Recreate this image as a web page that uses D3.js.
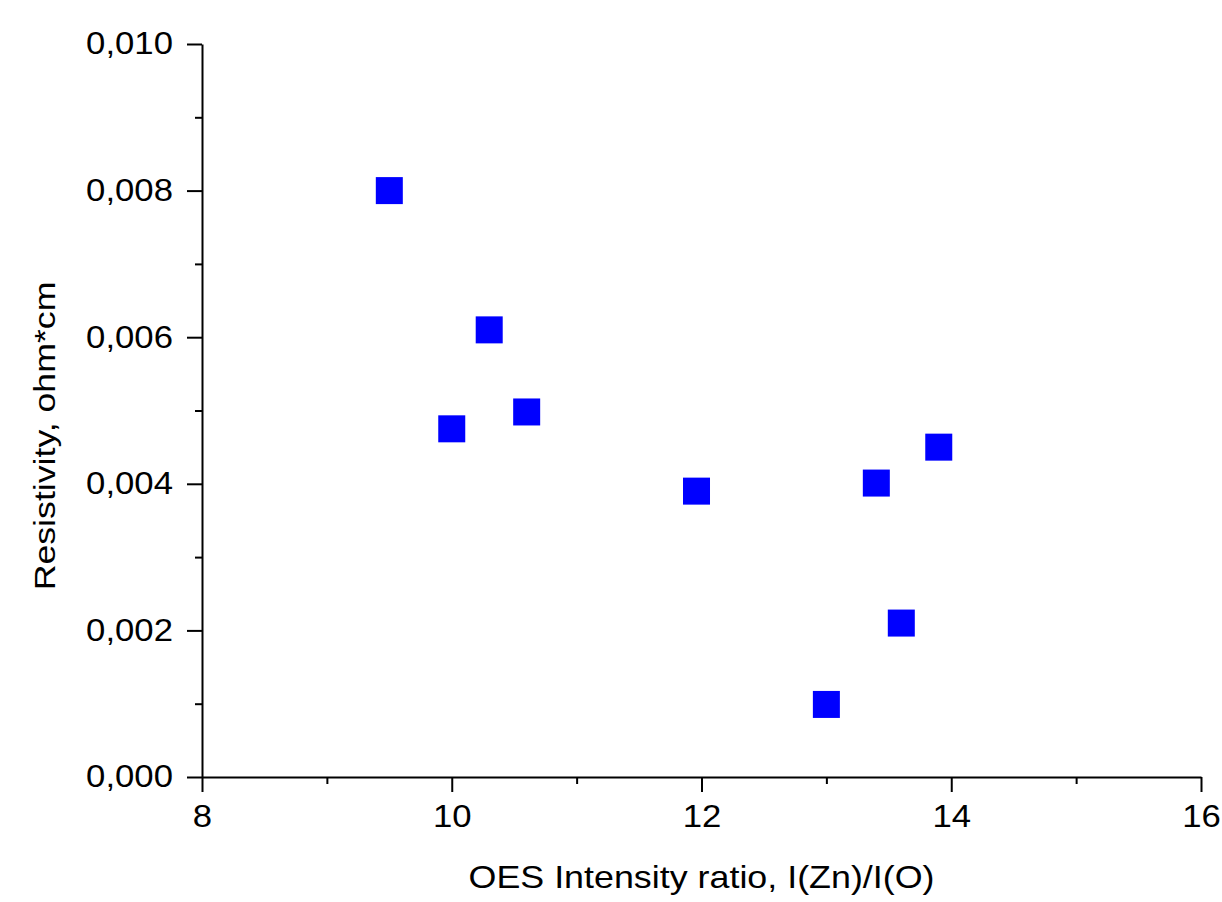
<!DOCTYPE html>
<html>
<head>
<meta charset="utf-8">
<script src="https://cdn.jsdelivr.net/npm/d3@7"></script>
<style>
  html, body { margin: 0; padding: 0; background: #fff; }
  svg text { font-family: "Liberation Sans", Arial, sans-serif; fill: #000; }
</style>
</head>
<body>
<div id="container"></div>
<script>
// OES ratio vs resistivity
const ratio = [9.5, 10.0, 10.3, 10.6, 11.96, 13.0, 13.4, 13.6, 13.9];
const resistivity = [0.0080, 0.00475, 0.0061, 0.00498, 0.0039, 0.00099, 0.00401, 0.0021, 0.0045];

const xTicks = [8, 10, 12, 14, 16];
const xMinor = [9, 11, 13, 15];
const yTicks = [0, 0.002, 0.004, 0.006, 0.008, 0.010];
const yMinor = [0.001, 0.003, 0.005, 0.007, 0.009];

const xTitle = 'OES Intensity ratio, I(Zn)/I(O)';
const yTitle = 'Resistivity, ohm*cm';

const width = 1222;
const height = 902;
const margin = {left: 202, right: 21, top: 44, bottom: 125};
const stretch = 1.12; // glyphs in the original are a bit wider than Arial

const svg = d3.select('#container').append('svg')
  .attr('width', width)
  .attr('height', height);

const x = d3.scaleLinear()
  .domain([8, 16])
  .range([margin.left, width - margin.right]);

const y = d3.scaleLinear()
  .domain([0, 0.010])
  .range([height - margin.bottom, margin.top]);

const fmtY = d => d3.format('.3f')(d).replace('.', ',');

// axes
const gx = svg.append('g')
  .attr('transform', `translate(0,${y(0)})`)
  .call(d3.axisBottom(x).tickValues(xTicks).tickSize(15).tickSizeOuter(0).tickPadding(13));

svg.append('g')
  .attr('transform', `translate(0,${y(0)})`)
  .call(d3.axisBottom(x).tickValues(xMinor).tickSize(7).tickFormat(''))
  .select('.domain').remove();

const gy = svg.append('g')
  .attr('transform', `translate(${x(8)},0)`)
  .call(d3.axisLeft(y).tickValues(yTicks).tickSize(15).tickSizeOuter(0).tickPadding(14).tickFormat(fmtY));

svg.append('g')
  .attr('transform', `translate(${x(8)},0)`)
  .call(d3.axisLeft(y).tickValues(yMinor).tickSize(7).tickFormat(''))
  .select('.domain').remove();

svg.selectAll('.domain, .tick line')
  .attr('stroke', '#000')
  .attr('stroke-width', 2);

svg.selectAll('.tick text')
  .attr('font-size', 31)
  .attr('font-family', '"Liberation Sans", Arial, sans-serif');

gx.selectAll('.tick text')
  .attr('transform', `scale(${stretch},1)`);

gy.selectAll('.tick text').each(function () {
  const t = d3.select(this);
  const tx = +t.attr('x');
  t.attr('x', 0).attr('transform', `translate(${tx},0) scale(${stretch},1)`);
});

// titles
svg.append('text')
  .attr('transform', `translate(${(x(8) + x(16)) / 2},888) scale(${stretch},1)`)
  .attr('text-anchor', 'middle')
  .attr('font-size', 32)
  .text(xTitle);

svg.append('text')
  .attr('transform', 'translate(55,436) rotate(-90) scale(1.19,1)')
  .attr('text-anchor', 'middle')
  .attr('font-size', 30)
  .text(yTitle);

// points
const side = 27;
svg.append('g')
  .selectAll('rect')
  .data(ratio.map((r, i) => [r, resistivity[i]]))
  .join('rect')
  .attr('x', d => x(d[0]) - side / 2)
  .attr('y', d => y(d[1]) - side / 2)
  .attr('width', side)
  .attr('height', side)
  .attr('fill', '#0000ff');
</script>
</body>
</html>
